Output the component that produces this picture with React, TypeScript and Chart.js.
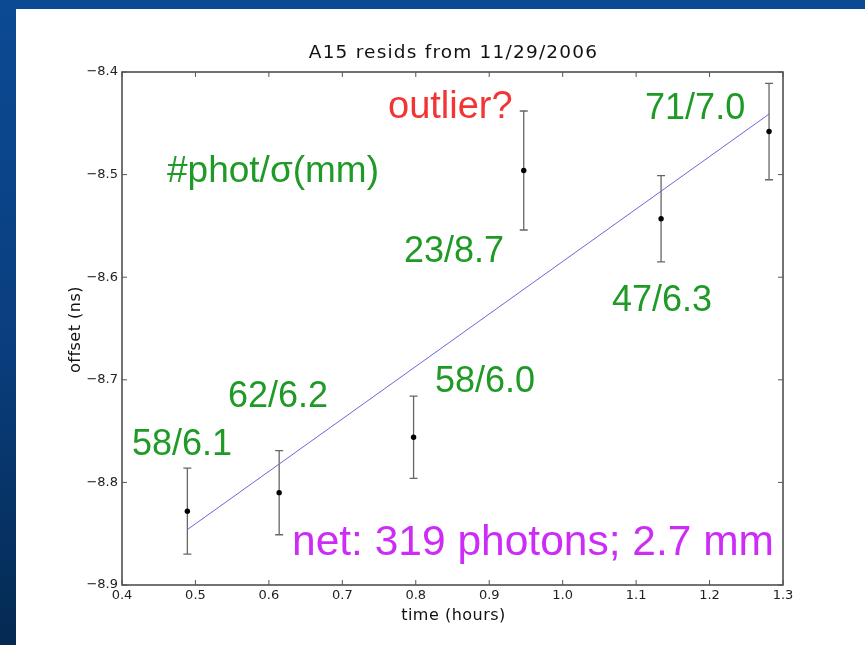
import React, { useEffect, useRef } from 'react';
import { Chart, registerables } from 'chart.js';

Chart.register(...registerables);

// Measurements: time (hours) vs residual offset (ns), symmetric error bars
const times = [0.489, 0.614, 0.797, 0.947, 1.134, 1.281];
const offsets = [-8.828, -8.810, -8.756, -8.496, -8.543, -8.458];
const errors = [0.042, 0.041, 0.040, 0.058, 0.042, 0.047];

// Linear fit end points
const fitTimes = [0.489, 1.281];
const fitOffsets = [-8.846, -8.441];

// Axis ticks
const xTicks = [0.4, 0.5, 0.6, 0.7, 0.8, 0.9, 1.0, 1.1, 1.2, 1.3];
const yTicks = [-8.9, -8.8, -8.7, -8.6, -8.5, -8.4];

// Titles
const chartTitle = 'A15 resids from 11/29/2006';
const xTitle = 'time (hours)';
const yTitle = 'offset (ns)';

// Annotations (anchored in data coordinates, left/baseline)
const noteTexts = ['58/6.1', '62/6.2', '58/6.0', '23/8.7', '47/6.3', '71/7.0', '#phot/\u03c3(mm)', 'outlier?', 'net: 319 photons; 2.7 mm'];
const noteX = [0.4136, 0.5443, 0.8262, 0.784, 1.0672, 1.1122, 0.4613, 0.7622, 0.6315];
const noteY = [-8.7733, -8.7265, -8.7119, -8.5852, -8.6329, -8.4458, -8.5072, -8.4448, -8.8708];
const noteColors = ['#1f9a26', '#1f9a26', '#1f9a26', '#1f9a26', '#1f9a26', '#1f9a26', '#1f9a26', '#f23434', '#cc2cf5'];
const noteSizes = [36, 36, 36, 36, 36, 36, 37, 38, 42.5];

const fmtY = (v: number) => (v < 0 ? '\u2212' : '') + Math.abs(v).toFixed(1);

export default function App() {
  const ref = useRef<HTMLCanvasElement>(null);

  useEffect(() => {
    document.body.style.margin = '0';
    const canvas = ref.current;
    if (!canvas) return;

    const decor = {
      id: 'decor',
      beforeDatasetsDraw(chart: any) {
        const { ctx, scales } = chart;
        const xs = scales.x, ys = scales.y;
        ctx.save();
        ctx.strokeStyle = '#666';
        ctx.lineWidth = 1.3;
        for (let i = 0; i < times.length; i++) {
          const px = xs.getPixelForValue(times[i]);
          const top = ys.getPixelForValue(offsets[i] + errors[i]);
          const bot = ys.getPixelForValue(offsets[i] - errors[i]);
          ctx.beginPath();
          ctx.moveTo(px, top);
          ctx.lineTo(px, bot);
          ctx.moveTo(px - 4, top);
          ctx.lineTo(px + 4, top);
          ctx.moveTo(px - 4, bot);
          ctx.lineTo(px + 4, bot);
          ctx.stroke();
        }
        ctx.restore();
      },
      afterDraw(chart: any) {
        const { ctx, scales, chartArea } = chart;
        const xs = scales.x, ys = scales.y;
        const { left, right, top, bottom } = chartArea;
        ctx.save();
        ctx.strokeStyle = '#444';
        ctx.lineWidth = 1.5;
        ctx.strokeRect(left, top, right - left, bottom - top);
        ctx.lineWidth = 1;
        ctx.strokeStyle = '#555';
        const tl = 5;
        ctx.beginPath();
        xTicks.forEach((t) => {
          const px = xs.getPixelForValue(t);
          ctx.moveTo(px, bottom);
          ctx.lineTo(px, bottom - tl);
          ctx.moveTo(px, top);
          ctx.lineTo(px, top + tl);
        });
        yTicks.forEach((t) => {
          const py = ys.getPixelForValue(t);
          ctx.moveTo(left, py);
          ctx.lineTo(left + tl, py);
          ctx.moveTo(right, py);
          ctx.lineTo(right - tl, py);
        });
        ctx.stroke();

        // titles
        const cx = (left + right) / 2;
        const cy = (top + bottom) / 2;
        ctx.fillStyle = '#111';
        ctx.textAlign = 'center';
        ctx.textBaseline = 'middle';
        (ctx as any).letterSpacing = '1.2px';
        ctx.font = '18.5px "DejaVu Sans", sans-serif';
        ctx.fillText(chartTitle, cx + 1, top - 19);
        (ctx as any).letterSpacing = '0.5px';
        ctx.font = '16px "DejaVu Sans", sans-serif';
        ctx.fillText(xTitle, cx + 1, bottom + 31);
        ctx.save();
        ctx.translate(left - 46, cy + 1);
        ctx.rotate(-Math.PI / 2);
        ctx.fillText(yTitle, 0, 0);
        ctx.restore();
        (ctx as any).letterSpacing = '0px';

        ctx.textAlign = 'left';
        ctx.textBaseline = 'alphabetic';
        for (let i = 0; i < noteTexts.length; i++) {
          ctx.font = `${noteSizes[i]}px "Liberation Sans", Arial, sans-serif`;
          ctx.fillStyle = noteColors[i];
          ctx.fillText(noteTexts[i], xs.getPixelForValue(noteX[i]), ys.getPixelForValue(noteY[i]));
        }
        ctx.restore();
      },
    };

    const chart = new Chart(canvas, {
      type: 'scatter',
      data: {
        datasets: [
          {
            type: 'line',
            data: fitTimes.map((x, i) => ({ x, y: fitOffsets[i] })),
            borderColor: '#6c68d8',
            borderWidth: 1,
            pointRadius: 0,
            fill: false,
          } as any,
          {
            type: 'scatter',
            data: times.map((x, i) => ({ x, y: offsets[i] })),
            backgroundColor: '#000',
            borderWidth: 0,
            pointRadius: 2.7,
          },
        ],
      },
      options: {
        responsive: false,
        devicePixelRatio: 1,
        animation: false,
        layout: { padding: { left: 0, right: 82, top: 72, bottom: 0 } },
        plugins: {
          legend: { display: false },
          tooltip: { enabled: false },
          title: { display: false },
        },
        scales: {
          x: {
            type: 'linear',
            min: 0.4,
            max: 1.3,
            afterBuildTicks: (s: any) => { s.ticks = xTicks.map((v) => ({ value: v })); },
            afterFit: (s: any) => { s.height = 60; },
            ticks: {
              callback: (v: any) => Number(v).toFixed(1),
              font: { family: "'DejaVu Sans'", size: 13 },
              color: '#222',
              padding: 3,
              maxRotation: 0,
              autoSkip: false,
            },
            grid: { display: false, drawTicks: false },
            border: { display: false },
            title: { display: false },
          },
          y: {
            type: 'linear',
            min: -8.9,
            max: -8.4,
            afterBuildTicks: (s: any) => { s.ticks = yTicks.map((v) => ({ value: v })); },
            afterFit: (s: any) => { s.width = 122; },
            ticks: {
              callback: (v: any) => fmtY(Number(v)),
              font: { family: "'DejaVu Sans'", size: 13 },
              color: '#222',
              padding: 4,
              autoSkip: false,
            },
            grid: { display: false, drawTicks: false },
            border: { display: false },
            title: { display: false },
          },
        },
      },
      plugins: [decor],
    } as any);

    return () => chart.destroy();
  }, []);

  return (
    <div
      style={{
        position: 'relative',
        width: 865,
        height: 645,
        overflow: 'hidden',
        background: 'linear-gradient(180deg, #0c4a94 0%, #0a3f80 50%, #042a52 100%)',
      }}
    >
      <div style={{ position: 'absolute', left: 16, top: 9, right: 0, bottom: 0, background: '#fff' }} />
      <canvas ref={ref} width={865} height={645} style={{ position: 'absolute', left: 0, top: 0 }} />
    </div>
  );
}
